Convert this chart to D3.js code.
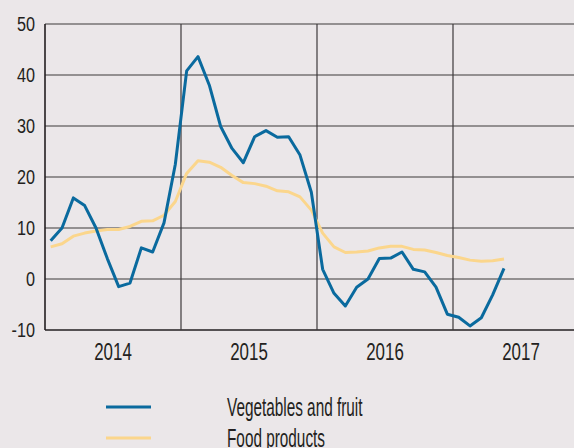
<!DOCTYPE html>
<html>
<head>
<meta charset="utf-8">
<script src="https://cdn.jsdelivr.net/npm/d3@7"></script>
<style>
  html, body { margin: 0; padding: 0; background: #ebe7e9; }
  svg { display: block; }
  text { font-family: "Liberation Sans", Arial, sans-serif; fill: #231f20; }
</style>
</head>
<body>
<svg id="chart" width="574" height="448"></svg>
<script>
// monthly values, Jan 2014 .. May 2017
const start_year = 2014;
const years = [2014, 2015, 2016, 2017];
const y_ticks = [-10, 0, 10, 20, 30, 40, 50];
const series_names = ["Vegetables and fruit", "Food products"];

const veg_fruit = [
    7.5, 10, 15.9, 14.4, 10, 4, -1.5, -0.8, 6.1, 5.3, 11, 22.5,
    40.8, 43.6, 38, 29.9, 25.6, 22.8, 27.9, 29.1, 27.8, 27.9, 24.3, 17,
    1.9, -2.8, -5.3, -1.6, 0, 4, 4.1, 5.3, 1.9, 1.4, -1.6, -6.9,
    -7.5, -9.2, -7.6, -3.1, 2.1
];
const food_products = [
    6.3, 6.9, 8.4, 9, 9.4, 9.7, 9.7, 10.3, 11.3, 11.4, 12.5, 15.2,
    20.7, 23.2, 22.9, 21.9, 20.3, 18.9, 18.7, 18.2, 17.3, 17.1, 16.1, 13.5,
    9, 6.3, 5.2, 5.3, 5.5, 6.1, 6.4, 6.4, 5.8, 5.7, 5.2, 4.6,
    4.2, 3.7, 3.5, 3.6, 3.9
];
const colors = ["#0a6a9e", "#fbd68c"];

const wSvg = 574;
const pLeft = 45, pTop = 24, pBottom = 330;

const svg = d3.select("#chart");

// month index scale, each year = 12 units
let xScale = d3.scaleLinear()
    .domain([0, 48])
    .range([pLeft, 589]);

let yScale = d3.scaleLinear()
    .domain([-10, 50])
    .range([pBottom, pTop]);

// horizontal grid
svg.append("g")
    .classed("grid_h", true)
    .selectAll("line")
    .data(y_ticks)
    .enter()
    .append("line")
    .attr("x1", pLeft)
    .attr("x2", wSvg)
    .attr("y1", d => yScale(d))
    .attr("y2", d => yScale(d))
    .attr("stroke", d => d == -10 ? "#231f20" : "#3d3a3b")
    .attr("stroke-width", d => d == -10 ? 1.6 : 1.2);

// year separators
svg.append("g")
    .classed("grid_v", true)
    .selectAll("line")
    .data(years.slice(1))
    .enter()
    .append("line")
    .attr("x1", d => xScale((d - start_year) * 12))
    .attr("x2", d => xScale((d - start_year) * 12))
    .attr("y1", pTop)
    .attr("y2", pBottom)
    .attr("stroke", "#3d3a3b")
    .attr("stroke-width", 1.2);

// left axis line
svg.append("line")
    .attr("x1", pLeft).attr("x2", pLeft)
    .attr("y1", pTop).attr("y2", pBottom)
    .attr("stroke", "#231f20")
    .attr("stroke-width", 1.6);

// y labels (condensed look via horizontal scale)
svg.append("g")
    .selectAll("text")
    .data(y_ticks)
    .enter()
    .append("text")
    .attr("transform", d => `translate(35, ${yScale(d) + 7.3}) scale(0.79, 1)`)
    .attr("text-anchor", "end")
    .style("font-size", "20.5px")
    .text(d => d);

// x labels, centred in each year
svg.append("g")
    .selectAll("text")
    .data(years)
    .enter()
    .append("text")
    .attr("transform", d => `translate(${xScale((d - start_year) * 12 + 6)}, 359.5) scale(0.69, 1)`)
    .attr("text-anchor", "middle")
    .style("font-size", "24.5px")
    .text(d => d);

// lines
let line = d3.line()
    .x((d, i) => xScale(i + 0.5))
    .y(d => yScale(d));

[food_products, veg_fruit].forEach((data, k) => {
    svg.append("path")
        .datum(data)
        .attr("d", line)
        .attr("fill", "none")
        .attr("stroke", k == 0 ? colors[1] : colors[0])
        .attr("stroke-width", 3)
        .attr("stroke-linejoin", "round");
});

// legend
let legend = svg.append("g").classed("legend", true);
series_names.forEach((name, i) => {
    let y = 407 + i * 31;
    legend.append("line")
        .attr("x1", 106).attr("x2", 151)
        .attr("y1", y).attr("y2", y)
        .attr("stroke", colors[i])
        .attr("stroke-width", 3);
    legend.append("text")
        .attr("transform", `translate(227, ${y + 9.3}) scale(0.59, 1)`)
        .style("font-size", "26px")
        .text(name);
});
</script>
</body>
</html>
